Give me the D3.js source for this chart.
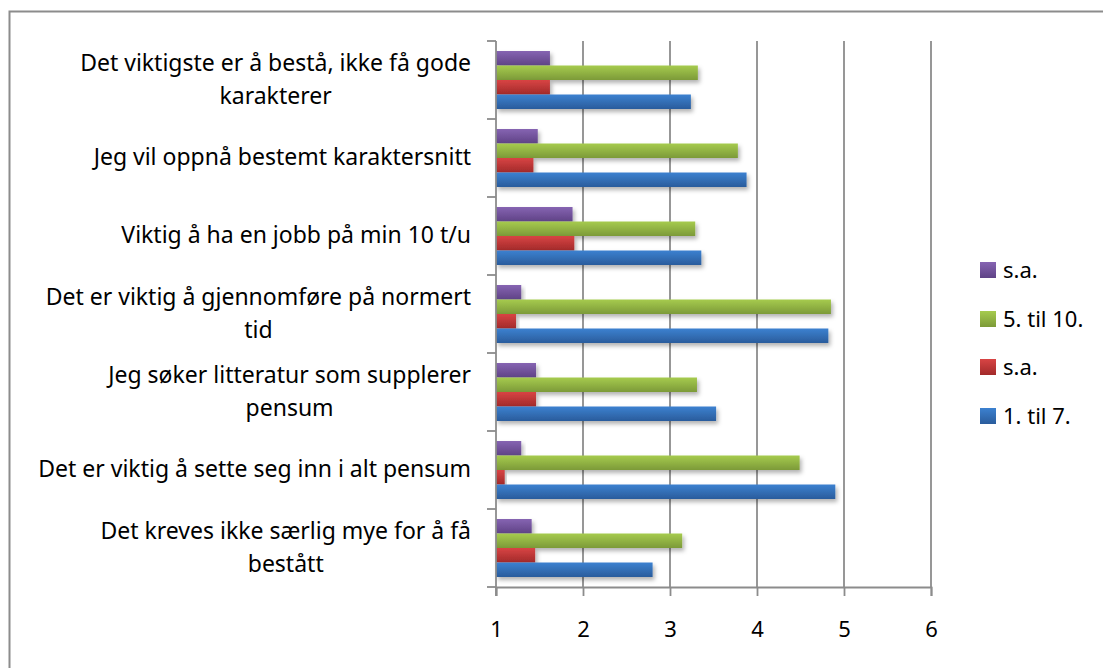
<!DOCTYPE html>
<html>
<head>
<meta charset="utf-8">
<script src="https://cdn.jsdelivr.net/npm/d3@7"></script>
<style>
  html, body { margin: 0; padding: 0; background: #fff; }
  svg { display: block; font-family: "Noto Sans", "Open Sans", sans-serif; }
</style>
</head>
<body>
<svg id="chart" width="1103" height="668"></svg>
<script>
// Categories, top to bottom (\n = line break as in the original)
var categories = [
  "Det viktigste er å bestå, ikke få gode\nkarakterer",
  "Jeg vil oppnå bestemt karaktersnitt",
  "Viktig å ha en jobb på min 10 t/u",
  "Det er viktig å gjennomføre på normert\ntid",
  "Jeg søker litteratur som supplerer\npensum",
  "Det er viktig å sette seg inn i alt pensum",
  "Det kreves ikke særlig mye for å få\nbestått"
];

// Series values, same order as categories
var sa2Values  = [1.62, 1.48, 1.88, 1.29, 1.46, 1.29, 1.41];  // s.a. (purple)
var t510Values = [3.32, 3.78, 3.29, 4.85, 3.31, 4.49, 3.14];  // 5. til 10.
var sa1Values  = [1.62, 1.43, 1.90, 1.23, 1.46, 1.10, 1.45];  // s.a. (red)
var t17Values  = [3.24, 3.88, 3.36, 4.82, 3.53, 4.90, 2.80];  // 1. til 7.

var seriesNames = ["s.a.", "5. til 10.", "s.a.", "1. til 7."];
var xTicks = [1, 2, 3, 4, 5, 6];

var series = [
  { key: "sa2",  name: seriesNames[0], values: sa2Values,  top: "#8664b2", bottom: "#5f4386" },
  { key: "t510", name: seriesNames[1], values: t510Values, top: "#a6cb4e", bottom: "#7c9a38" },
  { key: "sa1",  name: seriesNames[2], values: sa1Values,  top: "#d84444", bottom: "#a22a2a" },
  { key: "t17",  name: seriesNames[3], values: t17Values,  top: "#3c81d0", bottom: "#2a5c9c" }
];

var svg = d3.select("#chart");
var defs = svg.append("defs");

// gradients for the bars
series.forEach(function(s) {
  var g = defs.append("linearGradient")
    .attr("id", "grad-" + s.key)
    .attr("x1", 0).attr("y1", 0).attr("x2", 0).attr("y2", 1);
  g.append("stop").attr("offset", "0%").attr("stop-color", s.top);
  g.append("stop").attr("offset", "100%").attr("stop-color", s.bottom);
});

// soft shadow like office charts
var f = defs.append("filter").attr("id", "shadow")
  .attr("x", "-5%").attr("y", "-30%").attr("width", "120%").attr("height", "180%");
f.append("feDropShadow")
  .attr("dx", 2).attr("dy", 3).attr("stdDeviation", 2.2)
  .attr("flood-color", "#000").attr("flood-opacity", 0.3);

// outer frame
svg.append("rect")
  .attr("x", 9.5).attr("y", 11.5)
  .attr("width", 1110).attr("height", 680)
  .attr("fill", "none")
  .attr("stroke", "#8c8c8c")
  .attr("stroke-width", 2);

// scales
var x = d3.scaleLinear().domain([1, 6]).range([496, 931]);
var y = d3.scaleBand().domain(categories).range([41, 587]).paddingInner(0).paddingOuter(0);
var ySub = d3.scaleBand()
  .domain(series.map(function(s) { return s.key; }))
  .range([0, y.bandwidth()])
  .paddingInner(0)
  .paddingOuter(0.69);

var gridColor = "#8c8c8c";

// vertical gridlines
svg.append("g").selectAll("line")
  .data(xTicks.slice(1))
  .enter().append("line")
    .attr("x1", function(d) { return x(d); })
    .attr("x2", function(d) { return x(d); })
    .attr("y1", 41)
    .attr("y2", 587)
    .attr("stroke", gridColor)
    .attr("stroke-width", 1.8);

// bars
var rows = svg.append("g").selectAll("g.row")
  .data(categories)
  .enter().append("g")
    .attr("class", "row")
    .attr("transform", function(d) { return "translate(0," + y(d) + ")"; });

series.forEach(function(s) {
  rows.append("rect")
    .attr("x", x(1))
    .attr("y", ySub(s.key))
    .attr("height", ySub.bandwidth())
    .attr("width", function(d, i) { return x(s.values[i]) - x(1); })
    .attr("fill", "url(#grad-" + s.key + ")")
    .attr("filter", "url(#shadow)");
});

// y axis (category axis)
var yAxisG = svg.append("g");
yAxisG.append("line")
  .attr("x1", 496).attr("x2", 496)
  .attr("y1", 41).attr("y2", 596)
  .attr("stroke", gridColor).attr("stroke-width", 1.8);
var boundaries = categories.map(function(c) { return y(c); }).concat([587]);
yAxisG.selectAll("line.tick")
  .data(boundaries)
  .enter().append("line")
    .attr("class", "tick")
    .attr("x1", 487).attr("x2", 496)
    .attr("y1", function(d) { return d; })
    .attr("y2", function(d) { return d; })
    .attr("stroke", gridColor).attr("stroke-width", 1.8);

// x axis
var xAxis = d3.axisBottom(x).tickValues(xTicks).tickSize(9).tickPadding(25).tickFormat(d3.format("d"));
var xAxisG = svg.append("g")
  .attr("transform", "translate(0,587)")
  .call(xAxis);
xAxisG.select(".domain").attr("stroke", gridColor).attr("stroke-width", 1.8);
xAxisG.selectAll(".tick line").attr("stroke", gridColor).attr("stroke-width", 1.8);
xAxisG.selectAll(".tick text")
  .attr("fill", "#000")
  .style("font-size", "22px")
  .style("font-family", "\"Noto Sans\", sans-serif");

// category labels: block right aligned, lines centred in the block
var labelRight = 471, fontSize = 23, lineH = 33;
categories.forEach(function(c) {
  var lines = c.split("\n");
  var cy = y(c) + y.bandwidth() / 2 - 1;
  var spans = lines.map(function(l, i) {
    return svg.append("text")
      .attr("text-anchor", "middle")
      .attr("fill", "#000")
      .style("font-size", fontSize + "px")
      .attr("y", cy + (i - (lines.length - 1) / 2) * lineH)
      .attr("dy", "0.35em")
      .text(l);
  });
  var maxW = d3.max(spans, function(s) { return s.node().getComputedTextLength(); });
  spans.forEach(function(s) { s.attr("x", labelRight - maxW / 2); });
});

// legend
var legendY = [270, 319, 367, 416];
var legend = svg.append("g").selectAll("g")
  .data(series)
  .enter().append("g")
    .attr("transform", function(d, i) { return "translate(980," + legendY[i] + ")"; });
legend.append("rect")
  .attr("x", 0).attr("y", -8)
  .attr("width", 16).attr("height", 16)
  .attr("fill", function(d) { return "url(#grad-" + d.key + ")"; });
legend.append("text")
  .attr("x", 23).attr("dy", "0.35em")
  .attr("fill", "#000")
  .style("font-size", "22px")
  .text(function(d) { return d.name; });
</script>
</body>
</html>
